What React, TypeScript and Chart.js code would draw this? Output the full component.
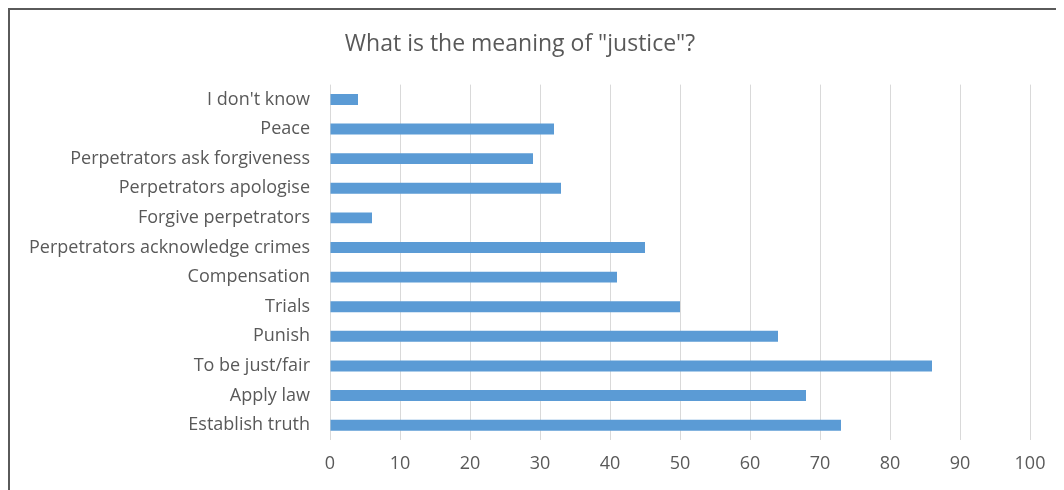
import React, { useEffect, useRef } from "react";
import { Chart, registerables } from "chart.js";

Chart.register(...registerables);

const categories: string[] = [
  "I don't know",
  "Peace",
  "Perpetrators ask forgiveness",
  "Perpetrators apologise",
  "Forgive perpetrators",
  "Perpetrators acknowledge crimes",
  "Compensation",
  "Trials",
  "Punish",
  "To be just/fair",
  "Apply law",
  "Establish truth",
];

const values: number[] = [4, 32, 29, 33, 6, 45, 41, 50, 64, 86, 68, 73];

const chartTitle = 'What is the meaning of "justice"?';

const FONT = "'Open Sans', Lato, sans-serif";
const TEXT = "#595959";

export default function App() {
  const canvasRef = useRef<HTMLCanvasElement | null>(null);

  useEffect(() => {
    document.body.style.overflow = "hidden";
    const ctx = canvasRef.current;
    if (!ctx) return;
    const chart = new Chart(ctx, {
      type: "bar",
      data: {
        labels: categories,
        datasets: [
          {
            data: values,
            backgroundColor: "#5b9bd5",
            borderWidth: 0,
            categoryPercentage: 1,
            barPercentage: 0.37,
          },
        ],
      },
      options: {
        indexAxis: "y",
        animation: false,
        responsive: false,
        maintainAspectRatio: false,
        layout: { padding: { left: 0, right: 34, top: 0, bottom: 0 } },
        plugins: {
          legend: { display: false },
          tooltip: { enabled: false },
          title: {
            display: true,
            text: chartTitle,
            color: TEXT,
            font: { family: FONT, size: 23, weight: "normal" },
            padding: { top: 21, bottom: 26 },
          },
        },
        scales: {
          x: {
            min: 0,
            max: 100,
            ticks: {
              stepSize: 10,
              color: TEXT,
              font: { family: FONT, size: 18 },
              padding: 13,
            },
            grid: { color: "#d9d9d9", drawTicks: false, lineWidth: 1 },
            border: { display: false },
            afterFit: (scale: any) => {
              scale.height = 50;
            },
          },
          y: {
            ticks: {
              color: TEXT,
              font: { family: FONT, size: 18 },
              padding: 20,
              autoSkip: false,
            },
            grid: { display: false, drawTicks: false },
            border: { display: false },
            afterFit: (scale: any) => {
              scale.width = 320;
            },
          },
        },
      },
    });
    return () => chart.destroy();
  }, []);

  return (
    <div
      style={{
        width: 1054,
        height: 480,
        borderTop: "2px solid #5a5a5a",
        borderLeft: "2px solid #5a5a5a",
        background: "#fff",
      }}
    >
      <canvas ref={canvasRef} width={1054} height={480} style={{ display: "block" }} />
    </div>
  );
}
